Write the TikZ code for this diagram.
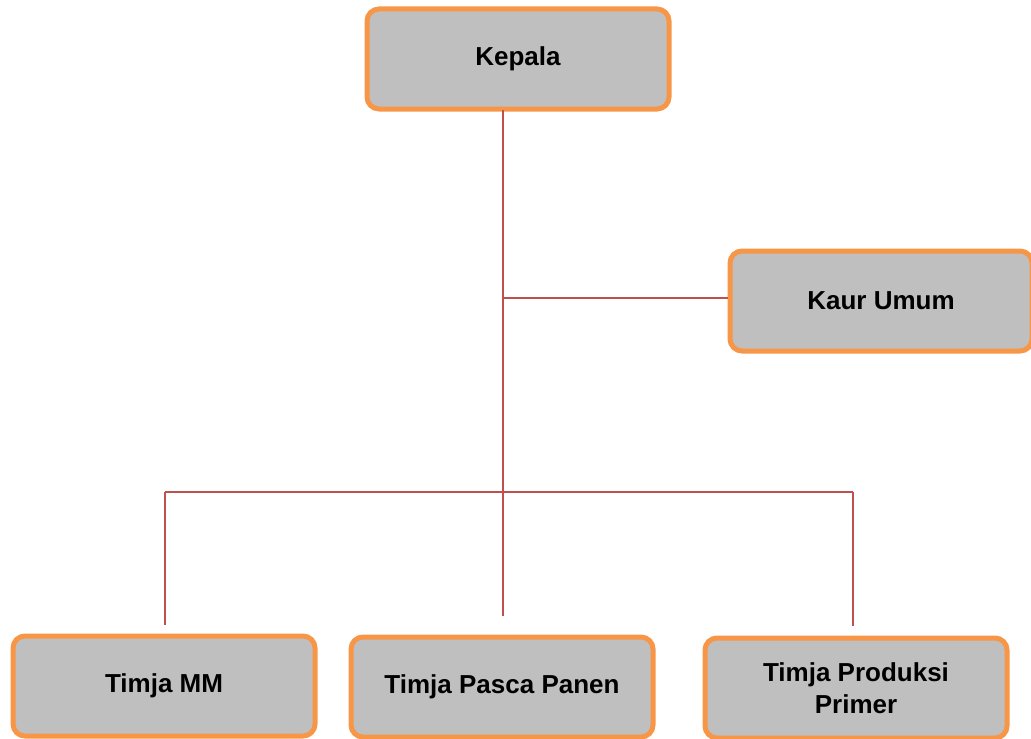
\documentclass[tikz,border=0pt]{standalone}
\usepackage{fontspec}
\setmainfont{Liberation Sans}
\usetikzlibrary{positioning}
\definecolor{boxorange}{HTML}{F79646}
\definecolor{boxgray}{HTML}{BFBFBF}
\definecolor{linkred}{HTML}{C0504D}
\begin{document}
\begin{tikzpicture}[
                x=0.5pt, y=-0.5pt,
                unit/.style={draw=boxorange, fill=boxgray, line width=2.5pt,
                    rounded corners=6pt, minimum width=151pt, minimum height=50pt,
                    align=center, font=\fontsize{13}{16}\selectfont\bfseries},
                link/.style={draw=linkred, line width=1pt}% lines of the chart
            ]

                \useasboundingbox (0,0) rectangle (1031,738);

                \node[unit] (kepala) at (518,59) {Kepala};
                \node[unit] (kaur) at (881,301) {Kaur Umum};
                \node[unit] (mm) at (164,686) {Timja MM};
                \node[unit] (pasca) at (502,687) {Timja Pasca Panen};
                \node[unit] (primer) at (856,688) {Timja Produksi\\Primer};

                \coordinate (top) at (503,110);
                \coordinate (mid) at (503,298);
                \coordinate (bus) at (503,492);
                \coordinate (busl) at (165,492);
                \coordinate (busr) at (853,492);
                \coordinate (endm) at (503,616);
                \coordinate (endl) at (165,625);
                \coordinate (endr) at (853,626);

                \draw[link] (top) -- (endm);
                \draw[link] (mid) -- (kaur.west |- mid);
                \draw[link] (busl) -- (busr);
                \draw[link] (busl) -- (endl);
                \draw[link] (busr) -- (endr);

            \end{tikzpicture}
\end{document}
